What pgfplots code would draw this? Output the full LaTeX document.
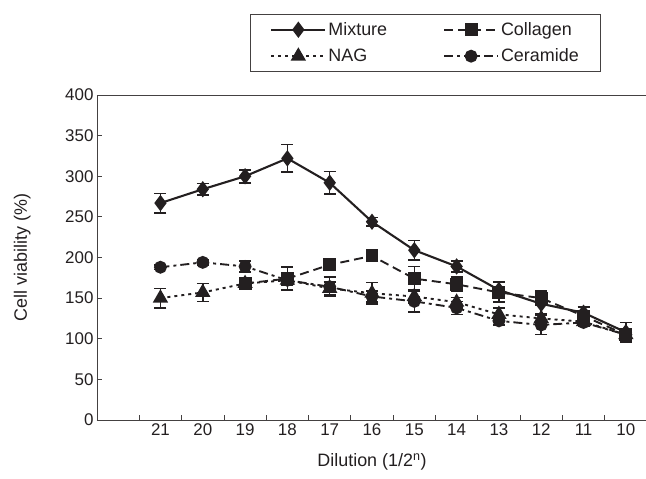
\documentclass[border=0pt]{standalone}
\usepackage{fontspec}
\setmainfont{Liberation Sans}
\usepackage{pgfplots}
\pgfplotsset{compat=1.18}
\usetikzlibrary{calc}

\definecolor{ink}{HTML}{231F20}

\begin{document}
\begin{tikzpicture}
\begin{axis}[
  name=ax,
  scale only axis,
  width=550bp, height=325bp,
  xmin=-1.5, xmax=11.5, ymin=0, ymax=400,
  axis x line*=bottom, axis y line*=left,
  axis line style={line width=1pt, draw=ink!85},
  tick align=inside,
  ytick={0,50,...,400},
  major tick length=5bp, minor tick length=5bp,
  tick style={line width=0.8pt, draw=ink!85},
  xtick={0,...,11},
  xticklabels={21,20,19,18,17,16,15,14,13,12,11,10},
  major x tick style={draw=none},
  minor xtick={-0.5,0.5,...,10.5},
  /pgf/number format/assume math mode=true,
  ticklabel style={font=\fontsize{17}{20}\selectfont, text=ink},
  ylabel={Cell viability (\%)},
  xlabel={Dilution (1/2\textsuperscript{n})},
  label style={font=\fontsize{18}{21}\selectfont, text=ink},
  ylabel style={at={(axis description cs:-0.136,0.5)}, anchor=center},
  xlabel style={at={(axis description cs:0.5,-0.13)}, anchor=center},
  clip=false,
  error bars/error bar style={line width=1.6pt, solid, ink},
  error bars/error mark options={rotate=90, mark size=6bp, line width=1.6pt, solid, ink},
  legend columns=2,
  legend cell align=left,
  legend style={at={(axis description cs:0.278,1.249)}, anchor=north west,
    draw=ink!85, line width=0.8pt, font=\fontsize{18}{21}\selectfont,
    text=ink, inner xsep=20bp, inner ysep=6bp, row sep=8bp,
    /tikz/every even column/.append style={column sep=54bp}},
  legend image code/.code={%
    \draw[mark repeat=2,mark phase=2,#1] plot coordinates {(0bp,0bp) (27bp,0bp) (54bp,0bp)};},
]
% Mixture
\addplot[ink, line width=2.1pt, solid, mark=diamond*, mark size=6.5bp, mark options={solid, fill=ink},
  error bars/.cd, y dir=both, y explicit] coordinates {
  (0,267) +- (0,12) (1,284) +- (0,7) (2,300) +- (0,8) (3,322) +- (0,17)
  (4,292) +- (0,14) (5,244) +- (0,5) (6,209) +- (0,12) (7,189) +- (0,7)
  (8,160) +- (0,10) (9,143) +- (0,12) (10,132) +- (0,7) (11,108) +- (0,12)};
\addlegendentry{Mixture}
% Collagen
\addplot[ink, line width=1.9pt, dash pattern=on 9bp off 5bp, mark=square*, mark size=5.5bp, mark options={solid, fill=ink},
  error bars/.cd, y dir=both, y explicit] coordinates {
  (2,168) +- (0,5) (3,174) +- (0,14) (4,191) +- (0,7) (5,202) +- (0,6)
  (6,174) +- (0,15) (7,167) +- (0,9) (8,157) +- (0,12) (9,150) +- (0,9)
  (10,128) +- (0,5) (11,105) +- (0,5)};
\addlegendentry{Collagen}
% NAG
\addplot[ink, line width=1.9pt, dash pattern=on 3bp off 4bp, mark=triangle*, mark size=7bp, mark options={solid, fill=ink},
  error bars/.cd, y dir=both, y explicit] coordinates {
  (0,150) +- (0,12) (1,157) +- (0,11) (2,168) +- (0,5) (3,172) +- (0,6)
  (4,162) +- (0,8) (5,156) +- (0,13) (6,152) +- (0,8) (7,145) +- (0,6)
  (8,130) +- (0,8) (9,125) +- (0,6) (10,121) +- (0,5) (11,105) +- (0,6)};
\addlegendentry{NAG}
% Ceramide
\addplot[ink, line width=1.9pt, dash pattern=on 9bp off 4bp on 3bp off 4bp, mark=*, mark size=5.5bp, mark options={solid, fill=ink},
  error bars/.cd, y dir=both, y explicit] coordinates {
  (0,188) +- (0,3) (1,194) +- (0,3) (2,189) +- (0,7) (3,172) +- (0,6)
  (4,164) +- (0,12) (5,152) +- (0,7) (6,146) +- (0,13) (7,138) +- (0,8)
  (8,122) +- (0,5) (9,117) +- (0,12) (10,120) +- (0,5) (11,105) +- (0,5)};
\addlegendentry{Ceramide}
\end{axis}
\draw[line width=1pt, ink!85] (ax.north west) -- (ax.north east);
\pgfresetboundingbox
\path ($(ax.south west)+(-97bp,-59bp)$) rectangle ($(ax.south west)+(549bp,420bp)$);
\end{tikzpicture}
\end{document}
